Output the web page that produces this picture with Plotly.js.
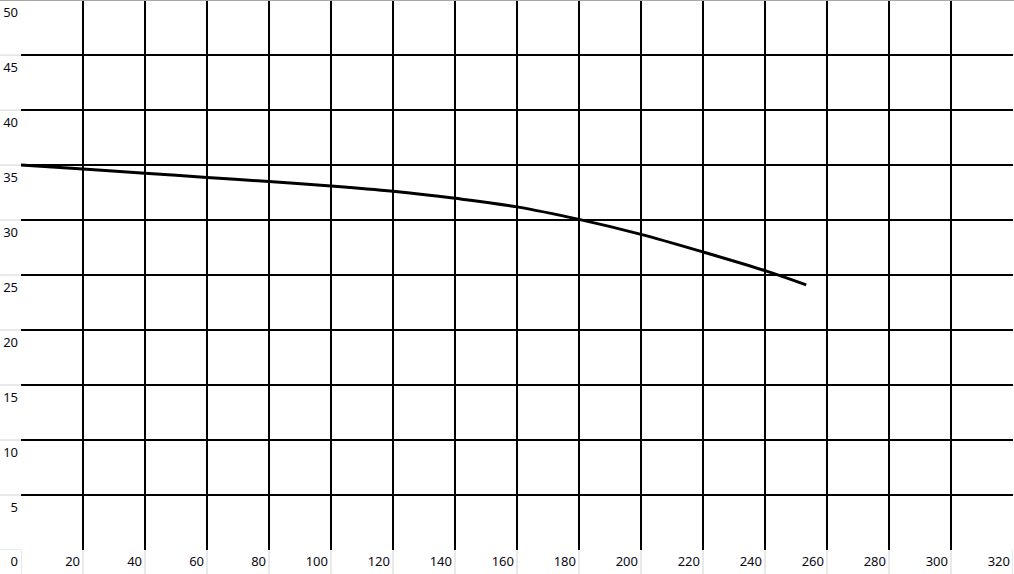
<!DOCTYPE html>
<html>
<head>
<meta charset="utf-8">
<script src="https://cdn.plot.ly/plotly-3.0.1.min.js"></script>
<style>html,body{margin:0;padding:0;background:#fff;}#chart{width:1014px;height:574px;}</style>
</head>
<body>
<div id="chart"></div>
<script>
const xValues = [0, 20, 40, 60, 80, 100, 120, 140, 160, 180, 200, 220, 240, 253.3];
const yValues = [35.0, 34.64, 34.26, 33.88, 33.5, 33.1, 32.62, 31.98, 31.2, 30.06, 28.7, 27.1, 25.4, 24.1];
const xTicks = [0, 20, 40, 60, 80, 100, 120, 140, 160, 180, 200, 220, 240, 260, 280, 300, 320];
const yTicks = [0, 5, 10, 15, 20, 25, 30, 35, 40, 45, 50];

const W = 1014, H = 574, L = 21, R = 1, T = 0, B = 24;
const pw = W - L - R, ph = H - T - B;
const gray = '#d4d4d4';
const shapes = [];
yTicks.forEach(v => shapes.push({type:'line', xref:'paper', yref:'y', x0:-L/pw, x1:0, y0:v, y1:v, line:{color:gray, width:1}, layer:'above'}));
xTicks.forEach(v => shapes.push({type:'line', xref:'x', yref:'paper', x0:v, x1:v, y0:-B/ph, y1:0, line:{color:gray, width:1}, layer:'above'}));
shapes.push({type:'line', xref:'paper', yref:'paper', x0:-L/pw, x1:1 + R/pw, y0:1, y1:1, line:{color:'#a8a8a8', width:2}, layer:'above'});

const trace = {
  x: xValues, y: yValues, type:'scatter', mode:'lines',
  line:{color:'#000', width:3, shape:'spline', smoothing:1},
  hoverinfo:'skip'
};

const layout = {
  width: W, height: H,
  margin:{l:L, r:R, t:T, b:B, pad:0},
  paper_bgcolor:'#fff', plot_bgcolor:'#fff',
  showlegend:false,
  font:{family:'Noto Sans, Open Sans, sans-serif', size:13, color:'#111'},
  xaxis:{
    range:[0,320], tickvals:xTicks, ticktext:xTicks.map(String),
    showgrid:true, gridcolor:'#000', gridwidth:2,
    zeroline:false, showline:false, ticks:'', fixedrange:true,
    ticklabelposition:'outside left', ticklabelstandoff:2, ticklabelshift:-3,
    ticklabeloverflow:'allow',
    tickfont:{family:'Noto Sans, sans-serif', size:13, color:'#0a0a14'}
  },
  yaxis:{
    range:[0,50.01], tickvals:yTicks, ticktext:yTicks.map(v => v === 0 ? '' : String(v)),
    showgrid:true, gridcolor:'#000', gridwidth:2,
    zeroline:false, showline:false, ticks:'', fixedrange:true,
    ticklabelposition:'outside bottom', ticklabelstandoff:2, ticklabelshift:3,
    ticklabeloverflow:'allow',
    tickfont:{family:'Noto Sans, sans-serif', size:13, color:'#0a0a14'}
  },
  shapes: shapes
};
Plotly.newPlot('chart', [trace], layout, {displayModeBar:false, staticPlot:true});
</script>
</body>
</html>
